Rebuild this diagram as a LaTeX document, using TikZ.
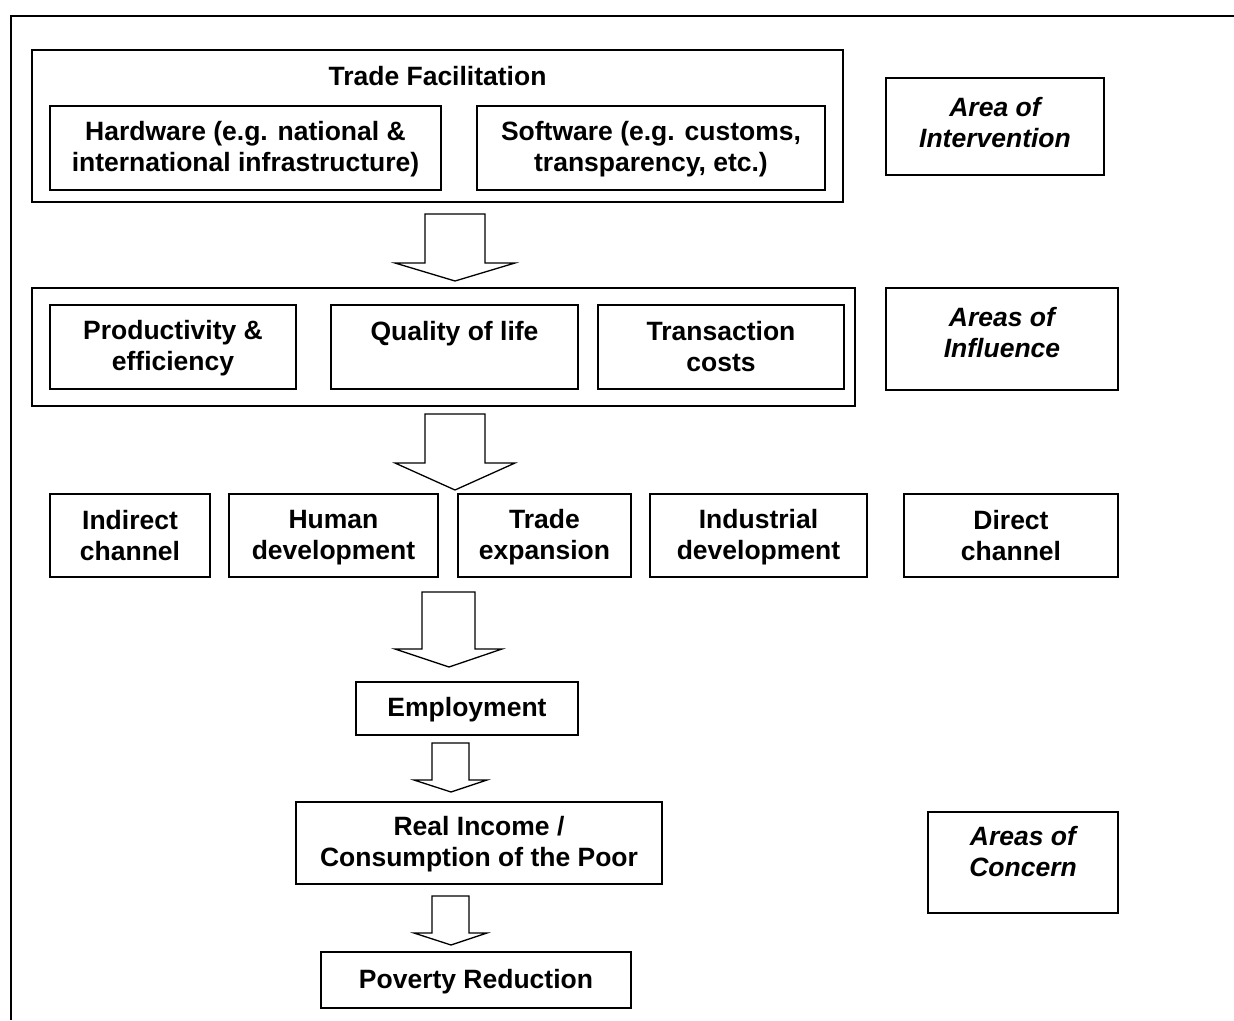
\documentclass[tikz,border=0pt]{standalone}
\usepackage{fontspec}
\setmainfont{Liberation Sans}
\newcommand{\mystrut}{\rule[-3.4pt]{0pt}{25.4pt}}
\begin{document}
\begin{tikzpicture}[x=1pt,y=-1pt,
  txtfont/.style={font=\fontsize{26.5}{31}\selectfont\bfseries},
  box/.style={draw, line width=1.8pt, inner sep=0pt, align=center, txtfont},
  plainbox/.style={draw, line width=1.8pt, inner sep=0pt},
  lbl/.style={inner sep=0pt, align=center, txtfont},
  tag/.style={inner sep=0pt, align=center, font=\fontsize{26.5}{31}\selectfont\bfseries\itshape},
  blockarrow/.style={draw, line width=1.3pt, fill=white, line join=miter}]
\useasboundingbox (0,0) rectangle (1234,1020);

% outer frame (clipped at right and bottom)
\draw[line width=2.6pt, line join=miter] (1234,16) -- (11,16) -- (11,1020);

% Area of intervention
\node[plainbox, minimum width=811pt, minimum height=152pt] (tf) at (437.5,126) {};
\node[lbl] (tftitle) at (437.5,76) {Trade Facilitation\mystrut};
\node[box, minimum width=391pt, minimum height=84pt] (hw) at (245.5,148) {Hardware (e.g. national \&\mystrut\\international infrastructure)\mystrut};
\node[box, minimum width=348pt, minimum height=84pt] (sw) at (651,148) {Software (e.g. customs,\mystrut\\transparency, etc.)\mystrut};
\node[plainbox, minimum width=218pt, minimum height=97pt] (aoi) at (995,126.5) {};
\node[tag] (aoitxt) at (995,122.5) {Area of\mystrut\\Intervention\mystrut};

% Areas of influence
\node[plainbox, minimum width=823pt, minimum height=118pt] (inf) at (443.5,347) {};
\node[box, minimum width=246pt, minimum height=84pt] (prod) at (173,347) {Productivity \&\mystrut\\efficiency\mystrut};
\node[plainbox, minimum width=247pt, minimum height=84pt] (qol) at (454.5,347) {};
\node[lbl] (qoltxt) at (454.5,332) {Quality of life\mystrut};
\node[box, minimum width=246pt, minimum height=84pt] (tc) at (721,347) {Transaction\mystrut\\costs\mystrut};
\node[plainbox, minimum width=232pt, minimum height=102pt] (aoinf) at (1002,339) {};
\node[tag] (aoinftxt) at (1002,332.5) {Areas of\mystrut\\Influence\mystrut};

% channels
\node[box, minimum width=160pt, minimum height=83pt] (indirect) at (130,535.5) {Indirect\mystrut\\channel\mystrut};
\node[box, minimum width=209pt, minimum height=83pt] (human) at (333.5,535.5) {Human\mystrut\\development\mystrut};
\node[box, minimum width=173pt, minimum height=83pt] (tradeexp) at (544.5,535.5) {Trade\mystrut\\expansion\mystrut};
\node[box, minimum width=217pt, minimum height=83pt] (industrial) at (758.5,535.5) {Industrial\mystrut\\development\mystrut};
\node[box, minimum width=214pt, minimum height=83pt] (direct) at (1011,535.5) {Direct\mystrut\\channel\mystrut};

% concern
\node[box, minimum width=222pt, minimum height=53pt] (emp) at (467,708.5) {Employment\mystrut};
\node[box, minimum width=366pt, minimum height=82pt] (income) at (479,843) {Real Income /\mystrut\\Consumption of the Poor\mystrut};
\node[box, minimum width=310pt, minimum height=56pt] (poverty) at (476,980) {Poverty Reduction\mystrut};
\node[plainbox, minimum width=190pt, minimum height=101pt] (aoc) at (1023,862.5) {};
\node[tag] (aoctxt) at (1023,852) {Areas of\mystrut\\Concern\mystrut};

% block arrows
\draw[blockarrow] (425,214) -- (485,214) -- (485,263) -- (515,263) -- (455,281) -- (395,263) -- (425,263) -- cycle;
\draw[blockarrow] (425,414) -- (485,414) -- (485,463) -- (515,463) -- (455,490) -- (395,463) -- (425,463) -- cycle;
\draw[blockarrow] (422,592) -- (475,592) -- (475,649) -- (502,649) -- (449,667) -- (395,649) -- (422,649) -- cycle;
\draw[blockarrow] (432,743) -- (469,743) -- (469,780) -- (487,780) -- (451,792) -- (414,780) -- (432,780) -- cycle;
\draw[blockarrow] (432,896) -- (469,896) -- (469,933) -- (487,933) -- (451,945) -- (414,933) -- (432,933) -- cycle;
\end{tikzpicture}
\end{document}
